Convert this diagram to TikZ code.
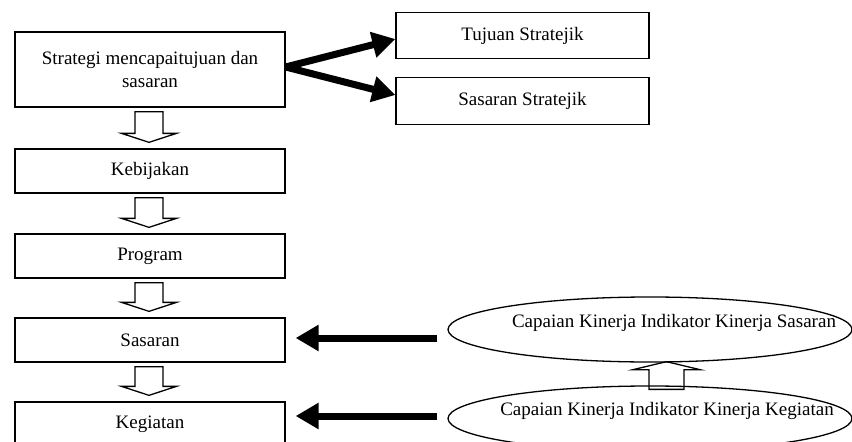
\documentclass[tikz,border=0pt]{standalone}
\usepackage{fontspec}
\setmainfont{Liberation Serif}
\usetikzlibrary{arrows.meta,shapes.geometric,calc}
\begin{document}
\begin{tikzpicture}[x=1pt,y=-1pt,
  txt/.style={font=\fontsize{19}{23}\selectfont},
  box/.style={draw, line width=1.3pt, inner sep=0pt, align=center, txt},
  colbox/.style={box, minimum width=270pt, minimum height=44pt},
  rbox/.style={box, minimum width=253pt, minimum height=46.5pt},
  oval/.style={draw, ellipse, line width=1.3pt, minimum width=404pt, minimum height=65pt, inner sep=0pt},
  blk/.style={line width=7pt, -{Triangle[length=23pt,width=25pt]}},
  hollow/.style={draw, line width=1.3pt, line join=miter}
]
\useasboundingbox (0,0) rectangle (852,442);

% left column
\node[box, minimum width=270pt, minimum height=75pt] (strat) at (150,69.5) {Strategi mencapaitujuan dan\\sasaran};
\node[colbox] (keb) at (150,171) {Kebijakan};
\node[colbox] (prog) at (150,256) {Program};
\node[colbox] (sas) at (150,340) {Sasaran};
\node[colbox] (keg) at (150,424) {Kegiatan};

% right boxes
\node[rbox] (tuj) at (522.5,35.5) {Tujuan Stratejik};
\node[rbox] (sstr) at (522.5,101) {Sasaran Stratejik};

% ellipses
\node[oval] (e1) at (650,329.5) {};
\node[txt, inner sep=0pt] (t1) at (674,322.5) {Capaian Kinerja Indikator Kinerja Sasaran};
\node[oval] (e2) at (650,418.5) {};
\node[txt, inner sep=0pt] (t2) at (667,410.5) {Capaian Kinerja Indikator Kinerja Kegiatan};

% thick black arrows
\draw[blk] ($(strat.east)+(0,-2.5)$) -- ($(tuj.west)+(0,3.5)$);
\draw[blk] ($(strat.east)+(0,-2.5)$) -- ($(sstr.west)+(0,-6)$);
\draw[blk] ($(e1.west)+(-10,8.5)$) -- ($(sas.east)+(10,-2)$);
\draw[blk] ($(e2.west)+(-10,-2.5)$) -- ($(keg.east)+(10,-8)$);

% hollow down arrows
\newcommand\hollowdown[2]{%
  \draw[hollow] let \p1=($(#1.south)+(-1,4)$), \p2=($(#2.north)+(-1,-6)$) in
    (\x1-14pt,\y1) -- (\x1+14pt,\y1) -- (\x1+14pt,\y2+9pt) -- (\x1+27.5pt,\y2+9pt)
    -- (\x1,\y2) -- (\x1-27.5pt,\y2+9pt) -- (\x1-14pt,\y2+9pt) -- cycle;}
\hollowdown{strat}{keb}
\hollowdown{keb}{prog}
\hollowdown{prog}{sas}
\hollowdown{sas}{keg}

% hollow up arrow between ellipses
\draw[hollow] let \p1=($(e2.north)+(16.5,4)$), \p2=($(e1.south)+(16.5,-1)$) in
  (\x1-17.5pt,\y1) -- (\x1+17.5pt,\y1) -- (\x1+17.5pt,\y2-8pt) -- (\x1+33.5pt,\y2-8pt)
  -- (\x1,\y2) -- (\x1-33.5pt,\y2-8pt) -- (\x1-17.5pt,\y2-8pt) -- cycle;
\end{tikzpicture}
\end{document}
